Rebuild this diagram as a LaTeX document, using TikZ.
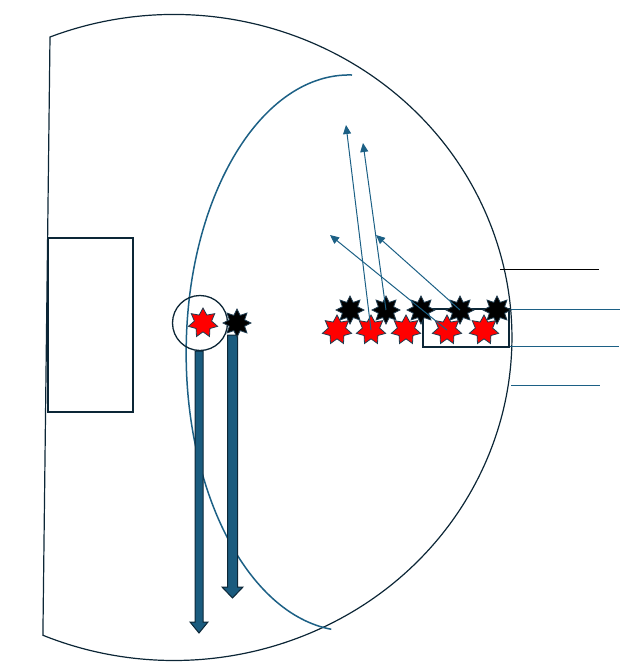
\documentclass[tikz,border=0pt]{standalone}
\usepackage{tikz}
\usetikzlibrary{arrows.meta,shapes.geometric}

\definecolor{pitchnavy}{HTML}{0C2636}
\definecolor{runteal}{HTML}{1C6085}
\definecolor{arrowfill}{HTML}{1A5B7E}
\definecolor{starline}{HTML}{203D50}

\begin{document}
\begin{tikzpicture}[
        x=1pt,y=-1pt,
        pitchline/.style={draw=pitchnavy,line width=1.2pt},
        boxline/.style={draw=pitchnavy,line width=2pt},
        redstar/.style={star,star points=7,star point ratio=1.7,minimum size=30pt,inner sep=0pt,fill=red,draw=starline,line width=0.8pt},
        blackstar/.style={star,star points=8,star point ratio=1.7,minimum size=28pt,inner sep=0pt,fill=black,draw=starline,line width=0.8pt},
        pass/.style={-{Triangle[length=9pt,width=8pt]},draw=runteal,line width=1pt},
        blockarrow/.style={fill=arrowfill,draw=pitchnavy,line width=1pt},
        sideline/.style={draw=runteal,line width=1pt}
    ]
        \useasboundingbox (0,0) rectangle (630,665);

        % pitch outline
        \draw[pitchline] (50,37) arc[start angle=-111.5,end angle=112.8,x radius=338,y radius=323] -- cycle;
        \draw[draw=runteal,line width=1.5pt] (352,75) arc[start angle=-89,end angle=-263.7,x radius=163,y radius=278];
        \draw[boxline] (48,238) rectangle (133,412);

        % lines on the right
        \draw[black,line width=1pt] (500,269) -- (599,269);
        \draw[sideline] (510,309) -- (620,309);
        \draw[sideline] (510,346) -- (619,346);
        \draw[sideline] (511,385) -- (600,385);
        \draw[boxline] (423,309) rectangle (509,347);

        % long runs
        \draw[blockarrow] (195,351) -- ++(0,271) -- ++(-5,0) -- ++(9,11) -- ++(9,-11) -- ++(-5,0) -- ++(0,-271) -- cycle;
        \draw[blockarrow] (227.5,335) -- ++(0,252) -- ++(-5.5,0) -- ++(10.5,11) -- ++(10.5,-11) -- ++(-5.5,0) -- ++(0,-252) -- cycle;

        \node[circle,draw=pitchnavy,line width=1.3pt,minimum size=55pt,inner sep=0pt] (ring) at (200,323) {};
        \node[redstar] (rk) at (203,323) {};
        \node[blackstar] (bk) at (237,323) {};

        % players
        \foreach \px/\n in {350/b1,386/b2,421/b3,460/b4,497/b5}
            \node[blackstar] (\n) at (\px,310) {};
        \foreach \px/\n in {337/r1,371/r2,406/r3,447/r4,484/r5}
            \node[redstar] (\n) at (\px,330) {};

        % passes
        \coordinate (tipA) at (346,125);
        \coordinate (tipB) at (363,143);
        \coordinate (tipC) at (330,235);
        \coordinate (tipD) at (376,235);
        \draw[pass] (r2.center) -- (tipA);
        \draw[pass] (b2.center) -- (tipB);
        \draw[pass] (r4.center) -- (tipC);
        \draw[pass] (b4.center) -- (tipD);
\end{tikzpicture}
\end{document}
